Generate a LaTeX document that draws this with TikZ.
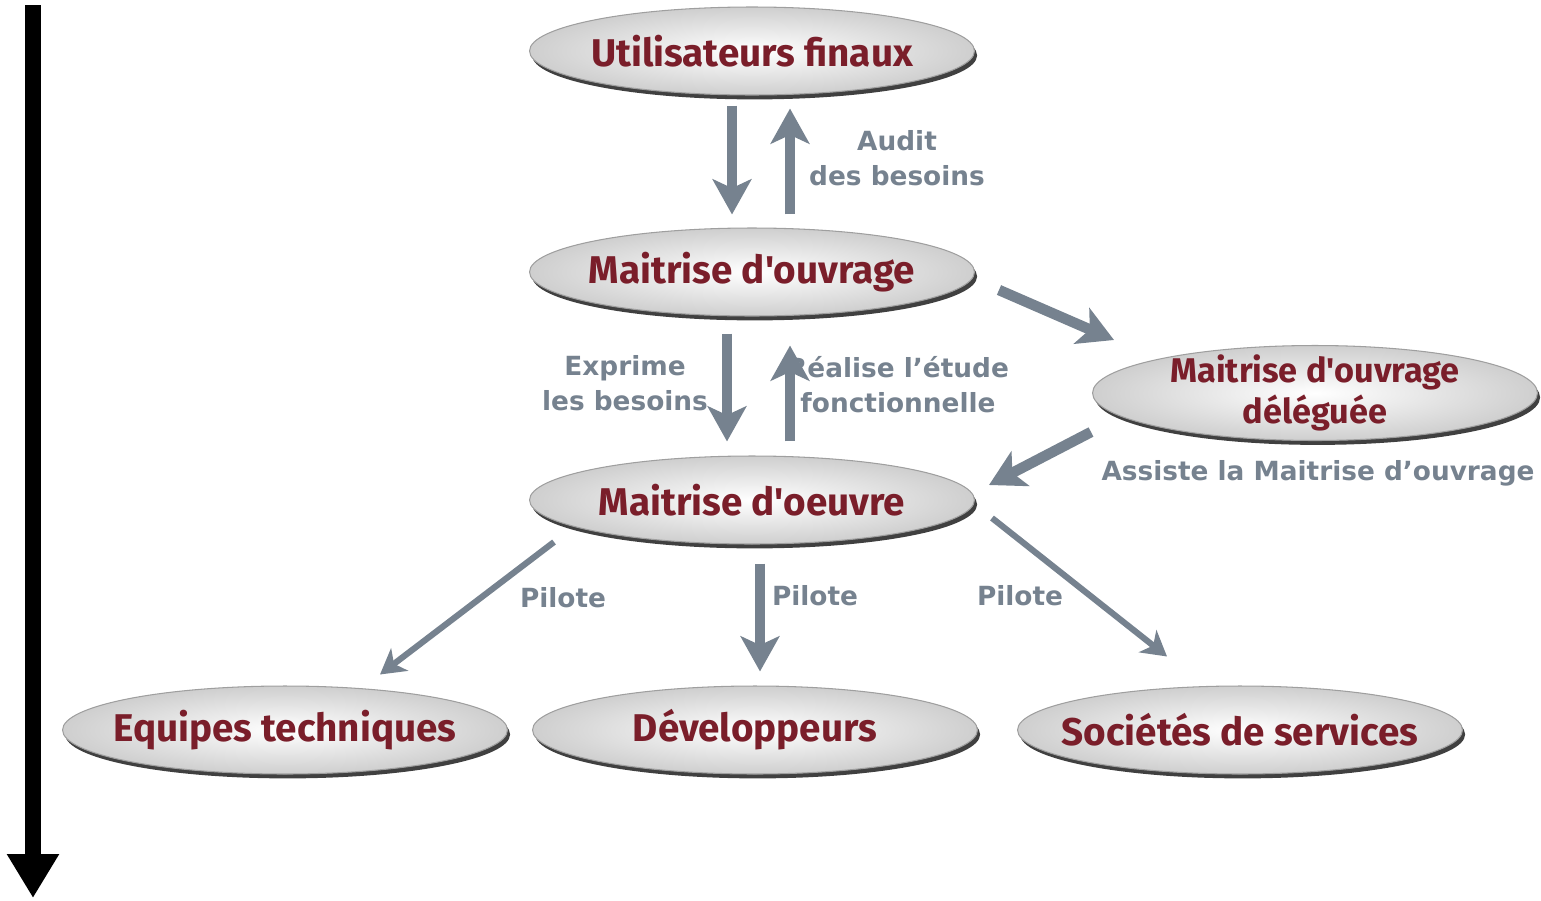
\documentclass[tikz,border=0pt]{standalone}
\usepackage{fontspec}
\setmainfont{DejaVu Sans}
\newfontfamily\bullefont{Fira Sans}
\usepackage{tikz}
\usetikzlibrary{shapes.geometric,shadows,arrows.meta,positioning}
\definecolor{bordeaux}{HTML}{7A1E2A}
\definecolor{acier}{HTML}{76828F}
\newcommand{\etiq}[1]{\makebox[0pt]{#1}}

\begin{document}
\begin{tikzpicture}[x=0.02cm,y=-0.02cm,
  bulle/.style={ellipse,draw=gray!75,line width=0.6pt,inner color=white,outer color=gray!38,minimum width=8.9cm,minimum height=1.76cm,inner sep=0pt,align=center,text=bordeaux,font=\bullefont\bfseries\fontsize{22}{24}\selectfont,drop shadow={shadow xshift=1.5pt,shadow yshift=-2.5pt,fill=black!75,opacity=1}},
  lbl/.style={align=center,text=acier,font=\bfseries\fontsize{15}{20}\selectfont},
  fl/.style={draw=acier,line width=6pt,-{Stealth[length=20pt,width=22pt,inset=5pt]}},
  flp/.style={draw=acier,line width=3.5pt,-{Stealth[length=14pt,width=16pt,inset=4pt]}}]
  \useasboundingbox (0,0) rectangle (1541,900);

  \node[bulle] (util) at (752,51) {\etiq{Utilisateurs finaux}};
  \node[bulle] (mo) at (752,272) {\etiq{Maitrise d'ouvrage}};
  \node[bulle] (moe) at (752,500) {\etiq{Maitrise d'oeuvre}};
  \node[bulle,minimum height=1.9cm,inner ysep=-0.1cm,font=\bullefont\bfseries\fontsize{19.5}{23}\selectfont] (mod) at (1315,393) {\etiq{Maitrise d'ouvrage}\\\etiq{déléguée}};
  \node[bulle] (equipes) at (285,730) {\etiq{Equipes techniques}};
  \node[bulle] (dev) at (755,730) {\etiq{Développeurs}};
  \node[bulle] (soc) at (1240,730) {\etiq{Sociétés de services}};

  % axe du temps
  \coordinate (haut) at (33,5);
  \coordinate (bas) at (33,898);
  \draw[line width=9pt,-{Triangle[length=25pt,width=28pt]}] (haut) -- (bas);

  \draw[fl] ([shift={(-20,10)}]util.south) -- ([shift={(-20,-13)}]mo.north);
  \draw[fl] ([shift={(38,-13)}]mo.north) -- ([shift={(38,13)}]util.south);
  \draw[fl] ([shift={(-25,17)}]mo.south) -- ([shift={(-25,-14)}]moe.north);
  \draw[fl] ([shift={(38,-14)}]moe.north) -- ([shift={(38,29)}]mo.south);

  \draw[fl] ([shift={(24,18)}]mo.east) -- ([shift={(22,-53)}]mod.west);
  \draw[fl] ([shift={(-1,39)}]mod.west) -- ([shift={(14,-15)}]moe.east);

  \draw[flp] ([shift={(25,42)}]moe.west) -- ([shift={(95,-11)}]equipes.north);
  \draw[fl] ([shift={(8,19)}]moe.south) -- ([shift={(5,-14)}]dev.north);
  \draw[flp] ([shift={(17,18)}]moe.east) -- ([shift={(-73,-29)}]soc.north);

  \node[lbl] (audit) at (897,158) {Audit\\des besoins};
  \node[lbl] (exprime) at (625,383) {Exprime\\les besoins};
  \node[lbl] (realise) at (898,385) {Réalise l'étude\\fonctionnelle};
  \node[lbl] (assiste) at (1318,473) {Assiste la Maitrise d'ouvrage};
  \node[lbl] (pilote1) at (563,598) {Pilote};
  \node[lbl] (pilote2) at (815,596) {Pilote};
  \node[lbl] (pilote3) at (1020,596) {Pilote};
\end{tikzpicture}
\end{document}
